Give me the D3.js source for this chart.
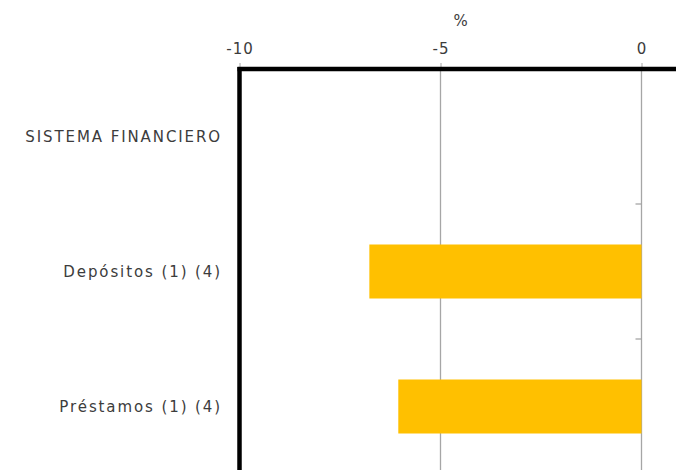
<!DOCTYPE html>
<html>
<head>
<meta charset="utf-8">
<script src="https://cdn.jsdelivr.net/npm/d3@7"></script>
<style>
  html, body { margin: 0; padding: 0; background: #fff; }
  svg { display: block; }
  text { font-family: "DejaVu Sans", sans-serif; fill: #3c3c3c; }
</style>
</head>
<body>
<div id="chart"></div>
<script>
// categories, top to bottom
var categories = ["SISTEMA FINANCIERO", "Depósitos (1) (4)", "Préstamos (1) (4)"];
// % values (null = heading row, no bar)
var values = [null, -6.77, -6.05];
var xTicks = [-10, -5, 0];
var unitLabel = "%";

(function() {
    'use strict';

    var width = 676, height = 470;
    var left = 239.5, top = 69;
    var font = "'DejaVu Sans', sans-serif";

    var svg = d3.select("#chart").append("svg")
        .attr("width", width)
        .attr("height", height);

    var x = d3.scaleLinear()
        .domain([-10, 1])
        .range([left, left + 11 * 40.2]);

    var y = d3.scaleBand()
        .domain(categories)
        .range([top, top + 3 * 135])
        .paddingInner(0.6)
        .paddingOuter(0.3);

    // vertical gridlines
    svg.append("g")
        .selectAll("line")
        .data(xTicks.filter(function(d) { return d !== -10; }))
        .enter().append("line")
        .attr("x1", function(d) { return x(d); })
        .attr("x2", function(d) { return x(d); })
        .attr("y1", top)
        .attr("y2", height)
        .style("stroke", "#a6a6a6")
        .style("stroke-width", 1.3);

    // small ticks on the zero line between categories
    svg.append("g")
        .selectAll("line")
        .data(categories.slice(1))
        .enter().append("line")
        .attr("x1", x(0) - 6)
        .attr("x2", x(0))
        .attr("y1", function(d) { return y(d) - y.step() * y.paddingInner() / 2; })
        .attr("y2", function(d) { return y(d) - y.step() * y.paddingInner() / 2; })
        .style("stroke", "#a6a6a6")
        .style("stroke-width", 1.3);

    // bars
    svg.append("g")
        .selectAll("rect")
        .data(categories.map(function(c, i) { return { name: c, value: values[i] }; })
            .filter(function(d) { return d.value !== null; }))
        .enter().append("rect")
        .attr("x", function(d) { return x(Math.min(0, d.value)); })
        .attr("width", function(d) { return Math.abs(x(d.value) - x(0)); })
        .attr("y", function(d) { return y(d.name); })
        .attr("height", y.bandwidth())
        .style("fill", "#ffc000");

    // top axis (plain hyphen for negatives, like the original)
    var xAxis = d3.axisTop(x)
        .tickValues(xTicks)
        .tickFormat(function(d) { return String(d); })
        .tickSize(4)
        .tickPadding(9);
    var gx = svg.append("g")
        .attr("transform", "translate(0," + (top - 2) + ")")
        .call(xAxis);
    gx.select(".domain").remove();
    gx.selectAll(".tick line").style("stroke", "#a6a6a6");
    gx.selectAll(".tick text")
        .style("font-family", font)
        .style("font-size", "15px")
        .style("letter-spacing", "1px")
        .style("fill", "#3c3c3c");

    // frame lines: top and left
    svg.append("line")
        .attr("x1", left - 2).attr("x2", width)
        .attr("y1", top).attr("y2", top)
        .style("stroke", "#000").style("stroke-width", 4.5);
    svg.append("line")
        .attr("x1", left).attr("x2", left)
        .attr("y1", top - 2).attr("y2", height)
        .style("stroke", "#000").style("stroke-width", 4.5);

    // unit label
    svg.append("text")
        .attr("x", (x.range()[0] + x.range()[1]) / 2)
        .attr("y", 26)
        .attr("text-anchor", "middle")
        .style("font-size", "15px")
        .text(unitLabel);

    // category labels
    svg.append("g")
        .selectAll("text")
        .data(categories)
        .enter().append("text")
        .attr("x", 222)
        .attr("y", function(d) { return y(d) + y.bandwidth() / 2; })
        .attr("dy", "0.36em")
        .attr("text-anchor", "end")
        .style("font-size", "15px")
        .style("letter-spacing", "1.9px")
        .text(function(d) { return d; });
})();
</script>
</body>
</html>
